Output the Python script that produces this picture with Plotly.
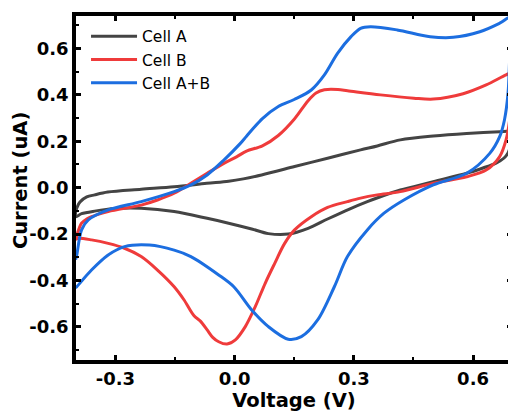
import plotly.graph_objects as go

# ---- data (Voltage V, Current uA) ----
cell_a_v = [-0.400, -0.397, -0.389, -0.372, -0.352, -0.319, -0.235, -0.152, -0.070, -0.015,
            0.022, 0.068, 0.151, 0.234, 0.317, 0.359, 0.417, 0.500, 0.584, 0.667, 0.692, 0.697,
            0.697, 0.694, 0.688, 0.678, 0.658, 0.625, 0.584, 0.500, 0.451, 0.417, 0.367, 0.334,
            0.289, 0.234, 0.185, 0.135, 0.085, 0.043, -0.015, -0.069, -0.152, -0.235,
            -0.300, -0.352, -0.385, -0.400]
cell_a_i = [-0.125, -0.088, -0.062, -0.040, -0.031, -0.019, -0.007, 0.004, 0.019, 0.028,
            0.038, 0.055, 0.091, 0.127, 0.163, 0.180, 0.206, 0.223, 0.234, 0.241, 0.242, 0.235,
            0.214, 0.180, 0.150, 0.128, 0.106, 0.085, 0.062, 0.026, 0.004, -0.010, -0.039, -0.060,
            -0.092, -0.135, -0.175, -0.200, -0.198, -0.178, -0.153, -0.132, -0.103, -0.089,
            -0.090, -0.101, -0.112, -0.125]

cell_b_v = [-0.400, -0.397, -0.385, -0.372, -0.360, -0.318, -0.235, -0.194, -0.152, -0.110,
            -0.069, -0.027, 0.006, 0.030, 0.070, 0.110, 0.150, 0.185, 0.205, 0.226, 0.260, 0.284,
            0.367, 0.451, 0.500, 0.575, 0.633, 0.683, 0.697,
            0.698, 0.695, 0.692, 0.683, 0.667, 0.633, 0.584, 0.500, 0.417, 0.359, 0.317, 0.284,
            0.234, 0.193, 0.151, 0.126, 0.101, 0.077, 0.052, 0.027, 0.002, -0.019, -0.040, -0.055,
            -0.069, -0.086, -0.102, -0.127, -0.152, -0.194, -0.235, -0.277, -0.318, -0.360, -0.393,
            -0.400]
cell_b_i = [-0.222, -0.205, -0.153, -0.135, -0.125, -0.103, -0.075, -0.053, -0.024, 0.019,
            0.062, 0.105, 0.134, 0.158, 0.180, 0.225, 0.295, 0.375, 0.408, 0.422, 0.423, 0.418,
            0.400, 0.386, 0.382, 0.405, 0.443, 0.486, 0.495,
            0.420, 0.350, 0.292, 0.206, 0.134, 0.076, 0.047, 0.019, -0.017, -0.031, -0.045, -0.060,
            -0.085, -0.125, -0.182, -0.240, -0.326, -0.412, -0.513, -0.599, -0.656, -0.674, -0.664,
            -0.645, -0.613, -0.575, -0.552, -0.484, -0.427, -0.355, -0.297, -0.261, -0.240, -0.225,
            -0.218, -0.222]

cell_ab_v = [-0.400, -0.397, -0.385, -0.368, -0.318, -0.235, -0.152, -0.110, -0.069, -0.027,
             0.014, 0.030, 0.070, 0.110, 0.150, 0.193, 0.226, 0.259, 0.293, 0.317, 0.342,
             0.409, 0.492, 0.550, 0.617, 0.667, 0.697,
             0.695, 0.692, 0.688, 0.679, 0.667, 0.642, 0.584, 0.500, 0.426, 0.376, 0.334, 0.284,
             0.251, 0.209, 0.168, 0.135, 0.085, 0.043, -0.002, -0.040, -0.110,
             -0.152, -0.214, -0.277, -0.318, -0.360, -0.397, -0.400]
cell_ab_i = [-0.310, -0.290, -0.182, -0.139, -0.096, -0.060, -0.017, 0.012, 0.055, 0.119,
             0.190, 0.222, 0.298, 0.350, 0.380, 0.421, 0.486, 0.579, 0.651, 0.687, 0.694,
             0.680, 0.651, 0.648, 0.672, 0.709, 0.737,
             0.650, 0.551, 0.407, 0.292, 0.220, 0.148, 0.062, 0.012, -0.053, -0.110, -0.182, -0.297,
             -0.427, -0.570, -0.642, -0.653, -0.599, -0.527, -0.427, -0.376, -0.297,
             -0.269, -0.247, -0.254, -0.290, -0.355, -0.427, -0.432]

series_names = ["Cell A", "Cell B", "Cell A+B"]
series_colors = ["#444444", "#ef3b3b", "#1c6ee0"]

x_tick_vals = [-0.3, 0.0, 0.3, 0.6]
x_tick_text = ["-0.3", "0.0", "0.3", "0.6"]
y_tick_vals = [-0.6, -0.4, -0.2, 0.0, 0.2, 0.4, 0.6]
y_tick_text = ["-0.6", "-0.4", "-0.2", "0.0", "0.2", "0.4", "0.6"]

fig = go.Figure()
for name, color, xs, ys in zip(series_names, series_colors,
                               [cell_a_v, cell_b_v, cell_ab_v],
                               [cell_a_i, cell_b_i, cell_ab_i]):
    fig.add_trace(go.Scatter(x=xs, y=ys, mode="lines", name=name,
                             line=dict(color=color, width=3, shape="spline", smoothing=0.9)))

FONT = "DejaVu Sans, Liberation Sans, Arial, sans-serif"
tick_font = dict(family=FONT, size=18, color="black", weight="bold")
title_font = dict(family=FONT, size=19.5, color="black", weight="bold")

fig.update_layout(
    width=508, height=405,
    margin=dict(l=68, r=0, t=8, b=53),
    paper_bgcolor="white", plot_bgcolor="white",
    showlegend=True,
    legend=dict(x=0.023, y=0.989, xanchor="left", yanchor="top",
                bgcolor="rgba(0,0,0,0)", itemwidth=46,
                font=dict(family=FONT, size=15.5, color="black"),
                tracegroupgap=0),
    xaxis=dict(range=[-0.399, 0.698], showgrid=False, zeroline=False,
               showline=True, linewidth=3.5, linecolor="black", mirror="ticks",
               ticks="inside", ticklen=5, tickwidth=2.5, tickcolor="black",
               tickmode="array", tickvals=x_tick_vals, ticktext=x_tick_text,
               tickfont=tick_font,
               minor=dict(tickmode="linear", tick0=0.15, dtick=0.3, ticks="inside",
                          ticklen=3, tickwidth=2, tickcolor="black", showgrid=False),
               title=dict(text="Voltage (V)", font=title_font, standoff=6)),
    yaxis=dict(range=[-0.7427, 0.740], showgrid=False, zeroline=False,
               showline=True, linewidth=3.5, linecolor="black", mirror="ticks",
               ticks="inside", ticklen=5, tickwidth=2.5, tickcolor="black",
               tickmode="array", tickvals=y_tick_vals, ticktext=y_tick_text,
               tickfont=tick_font,
               minor=dict(tickmode="linear", tick0=0.1, dtick=0.2, ticks="inside",
                          ticklen=3, tickwidth=2, tickcolor="black", showgrid=False)),
    annotations=[dict(text="Current (uA)", textangle=-90, font=title_font,
                      xref="paper", yref="paper", x=0, y=0.52,
                      xanchor="center", yanchor="middle", xshift=-56, showarrow=False)],
)

fig.write_html("out.html")
